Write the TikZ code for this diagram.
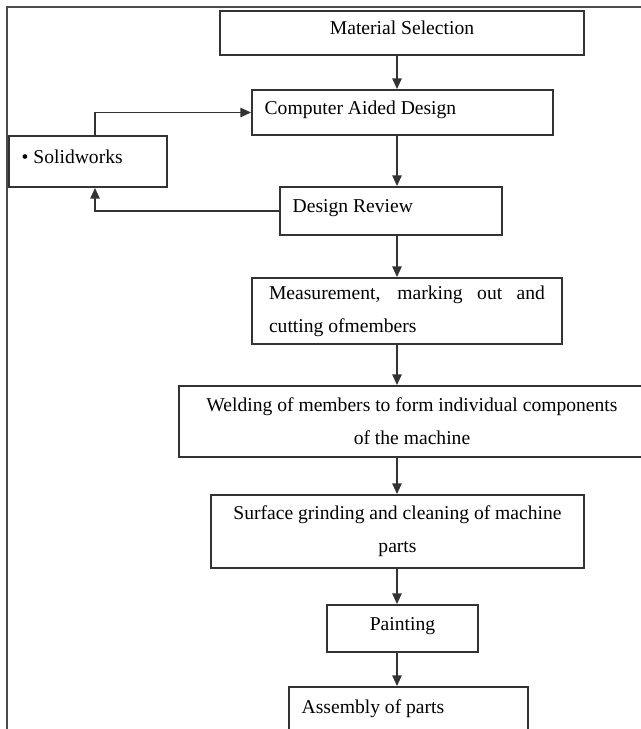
\documentclass[tikz,border=0pt]{standalone}
\usepackage{fontspec}
\setmainfont{Liberation Serif}
\usetikzlibrary{positioning, calc, arrows.meta}
\tikzstyle{Arrow} = [
%flow arrow with a small filled head
line width=1.1pt, draw=black!80,
-{Triangle[length=8pt, width=7pt]}
]

\begin{document}
\begin{tikzpicture}[x=0.75pt, y=-0.75pt,
			stage/.style = {rectangle, draw=black!80, line width=1.4pt, inner sep=0pt, text=black, font=\fontsize{14.7}{24.75}\selectfont},
			single/.style = {stage, text height=10pt, text depth=7.7pt},
			leftbox/.style = {single, align=flush left, inner xsep=9.5pt},
			multi/.style = {stage, align=center},
			frame/.style = {line width=1.1pt, draw=black!70},
		]
		\useasboundingbox (0,0) rectangle (641,729);
		\clip (0,0) rectangle (641,729);
		\draw[frame] (7,729) -- (7,7) -- (641,7);

		\coordinate (axis) at (397,0);
		\coordinate (loop) at (95,0);

		\node[single, minimum width=273pt, minimum height=33pt] (MS) at (402,33) {Material Selection};
		\node[leftbox, text width=206.75pt, minimum height=33.75pt] (CAD) at (402.5,112.5) {Computer Aided Design};
		\node[leftbox, text width=99.5pt, minimum height=38.25pt] (SW) at (88,161.5) {\textbullet\ Solidworks};
		\node[leftbox, text width=147.5pt, minimum height=36pt] (DR) at (391,211) {Design Review};

		\node[stage, align=justify, text width=207pt, minimum width=232.5pt, minimum height=49.5pt] (MM) at (407,311) {Measurement, marking out and\linebreak cutting ofmembers};
		\node[multi, minimum width=349.5pt, minimum height=53.25pt] (WM) at (412,421.5) {Welding of members to form individual components\\of the machine};
		\node[multi, minimum width=279.75pt, minimum height=54.75pt] (SG) at (397.5,531.5) {Surface grinding and cleaning of machine\\parts};
		\node[single, minimum width=113.25pt, minimum height=35.25pt] (PT) at (402.5,628.5) {Painting};
		\node[leftbox, text width=160.25pt, minimum height=37.5pt] (AP) at (408.5,712) {Assembly of parts};

		\draw[Arrow] (MS.south -| axis) -- (CAD.north -| axis);
		\draw[Arrow] (CAD.south -| axis) -- (DR.north -| axis);
		\draw[Arrow] (DR.south -| axis) -- (MM.north -| axis);
		\draw[Arrow] (MM.south -| axis) -- (WM.north -| axis);
		\draw[Arrow] (WM.south -| axis) -- (SG.north -| axis);
		\draw[Arrow] (SG.south -| axis) -- (PT.north -| axis);
		\draw[Arrow] (PT.south -| axis) -- (AP.north -| axis);

		\draw[Arrow] (SW.north -| loop) |- (CAD.west);
		\draw[Arrow] (DR.west) -| (SW.south -| loop);

	\end{tikzpicture}
\end{document}
